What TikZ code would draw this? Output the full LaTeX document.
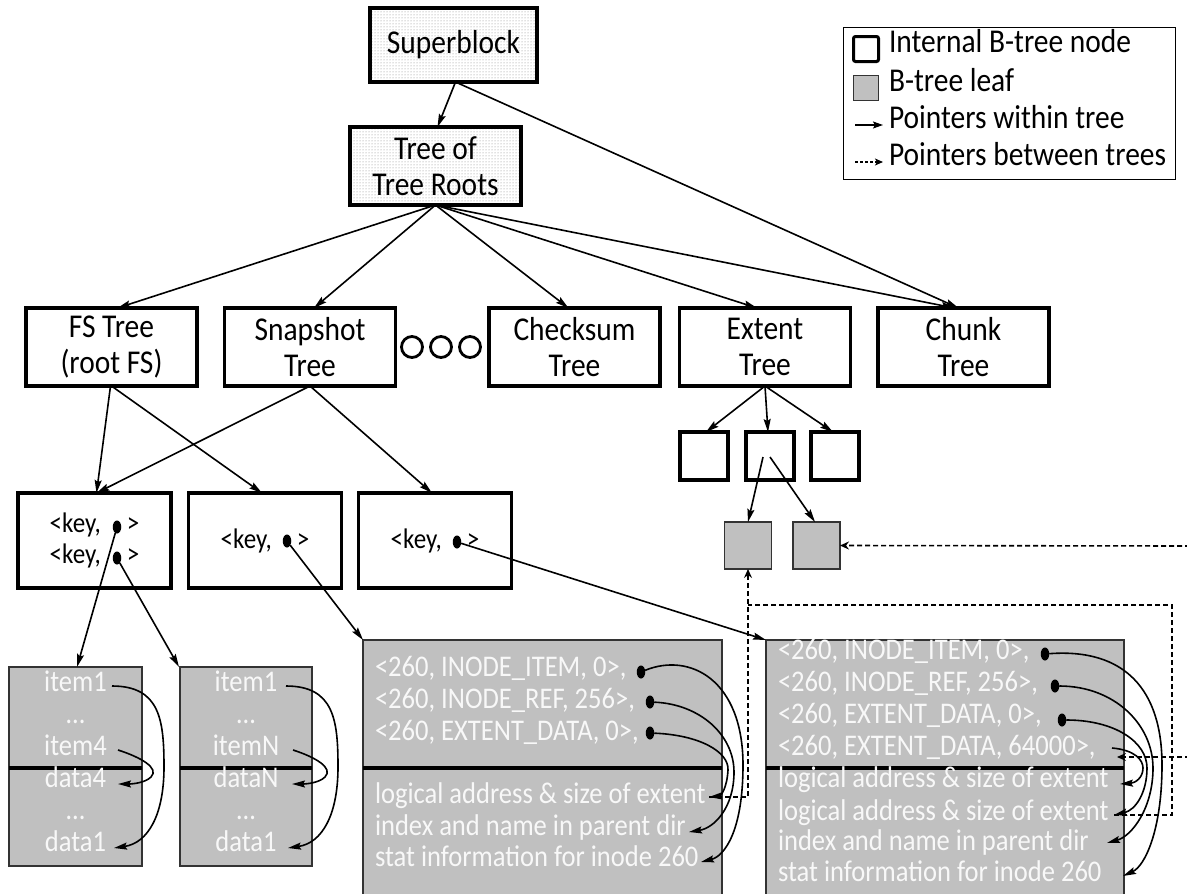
\documentclass[tikz,border=0pt]{standalone}
\usepackage{fontspec}
\setmainfont{Carlito}[FakeStretch=0.885]
\usetikzlibrary{arrows.meta,shapes.geometric,patterns}
\definecolor{leafgray}{RGB}{192,192,192}
\definecolor{leafink}{RGB}{248,248,248}
\begin{document}
\begin{tikzpicture}[x=1pt,y=-1pt,
  every node/.style={inner sep=0pt,outer sep=0pt},
  bigfont/.style={font=\fontsize{33.3}{36}\selectfont},
  treebox/.style={draw,line width=3.5pt,align=center,minimum width=171pt,minimum height=78pt,bigfont},
  rootbox/.style={treebox,pattern=dots,pattern color=black!50},
  keybox/.style={draw,line width=3.5pt,minimum width=153pt,minimum height=95pt,align=center,font=\fontsize{28.3}{31}\selectfont},
  smallbox/.style={draw,line width=3.5pt,minimum size=48pt},
  leafbox/.style={draw=black!80,line width=1.5pt,fill=leafgray},
  leaftxt/.style={text=leafink,font=\fontsize{30}{32}\selectfont,text height=0.75em,text depth=0.1em},
  legtxt/.style={bigfont,anchor=west,text height=0.75em,text depth=0.1em},
  kdot/.style={ellipse,fill=black,minimum width=8.5pt,minimum height=13pt},
  ptr/.style={line width=1.6pt,-{Stealth[length=13pt,width=7pt,inset=2pt]}},
  xptr/.style={line width=1.6pt,dash pattern=on 5pt off 3pt,-{Stealth[length=9pt,width=8pt,inset=3pt]}},
  xline/.style={line width=1.6pt,dash pattern=on 5pt off 3pt},
  ring/.style={circle,draw,line width=2.8pt,minimum size=21pt},
]
\useasboundingbox (0,0) rectangle (1187,894);

% ---------- upper levels ----------
\node[rootbox,minimum width=167pt,minimum height=74pt] (super) at (453.5,45) {Superblock};
\node[rootbox] (roots) at (435.5,166) {Tree of\\Tree Roots};

\node[treebox] (fs)    at (111.5,347) {FS Tree\\(root FS)};
\node[treebox] (snap)  at (310,347)   {Snapshot\\Tree};
\node[ring] (o1) at (412,347) {};
\node[ring] (o2) at (441,347) {};
\node[ring] (o3) at (470,347) {};
\node[treebox] (cks)   at (574.5,347) {Checksum\\Tree};
\node[treebox] (ext)   at (765,347)   {Extent\\Tree};
\node[treebox] (chunk) at (963.5,347) {Chunk\\Tree};

\draw[ptr] ([xshift=2]super.south) -- ([xshift=2]roots.north);
\draw[ptr] ([xshift=2]super.south) -- ([xshift=-5]chunk.north);
\draw[ptr] (roots.south) -- ([xshift=6]fs.north);
\draw[ptr] (roots.south) -- ([xshift=4]snap.north);
\draw[ptr] (roots.south) -- ([xshift=-6]cks.north);
\draw[ptr] (roots.south) -- ([xshift=-8]ext.north);
\draw[ptr] (roots.south) -- ([xshift=-9]chunk.north);

% ---------- FS / snapshot interior nodes ----------
\node[keybox] (k1) at (94.5,540.5) {<key,\hspace{26pt}>\\<key,\hspace{26pt}>};
\node[keybox] (k2) at (265,540.5)  {<key,\hspace{25pt}>};
\node[keybox] (k3) at (435,540.5)  {<key,\hspace{25pt}>};
\node[kdot] (k1a) at (117,527) {};
\node[kdot] (k1b) at (117,558) {};
\node[kdot] (k2d) at (287,541) {};
\node[kdot] (k3d) at (457,542) {};

\draw[ptr] ([xshift=-1]fs.south) -- ([xshift=2]k1.north);
\draw[ptr] (fs.south) -- ([xshift=-3]k2.north);
\draw[ptr] (snap.south) -- ([xshift=2]k1.north);
\draw[ptr] (snap.south) -- ([xshift=-3]k3.north);

% ---------- extent tree ----------
\node[smallbox] (ec1) at (704,456) {};
\node[smallbox] (ec2) at (770,456) {};
\node[smallbox] (ec3) at (835,456) {};
\node[leafbox,minimum size=47pt] (el1) at (748,545.5) {};
\node[leafbox,minimum size=47pt] (el2) at (816.5,545.5) {};

\draw[ptr] (ext.south) -- ([xshift=2]ec1.north);
\draw[ptr] (ext.south) -- ([xshift=-2]ec2.north);
\draw[ptr] (ext.south) -- ([xshift=-2]ec3.north);
\draw[ptr] ([shift={(-7,1)}]ec2.center) -- (el1.north);
\draw[ptr] ([shift={(0,1)}]ec2.center) -- ([xshift=-1.5]el2.north);

% ---------- small leaves ----------
\node[leafbox,minimum width=133pt,minimum height=199pt] (l1) at (75.5,766.5) {};
\node[leafbox,minimum width=132pt,minimum height=199pt] (l2) at (246,766.5) {};
\draw[line width=4.5pt] (9,768) -- (142,768);
\draw[line width=4.5pt] (180,768) -- (312,768);

\node[leaftxt] (l1i1) at (75.5,688) {item1};
\node[leaftxt] (l1e1) at (75.5,720) {…};
\node[leaftxt] (l1i4) at (75.5,752) {item4};
\node[leaftxt] (l1d4) at (75.5,784) {data4};
\node[leaftxt] (l1e2) at (75.5,816) {…};
\node[leaftxt] (l1d1) at (75.5,848) {data1};

\node[leaftxt] (l2i1) at (246,688) {item1};
\node[leaftxt] (l2e1) at (246,720) {…};
\node[leaftxt] (l2iN) at (246,752) {itemN};
\node[leaftxt] (l2dN) at (246,784) {dataN};
\node[leaftxt] (l2e2) at (246,816) {…};
\node[leaftxt] (l2d1) at (246,848) {data1};

\draw[ptr] (k1a) -- ([xshift=1.5]l1.north);
\draw[ptr] (k1b) -- ([xshift=-1]l2.north west);

\draw[ptr] (112,686) .. controls (160,686) and (164,720) .. (164,767)
                     .. controls (164,815) and (148,843) .. (114,848);
\draw[ptr] (118,750) .. controls (140,757) and (160,768) .. (151,777)
                     .. controls (145,783) and (132,784) .. (118,784);
\draw[ptr] (286,686) .. controls (334,686) and (338,720) .. (338,767)
                     .. controls (338,815) and (322,843) .. (288,848);
\draw[ptr] (293,750) .. controls (315,757) and (334,768) .. (325,777)
                     .. controls (319,783) and (306,784) .. (292,784);

% ---------- FS tree leaf ----------
\node[leafbox,minimum width=359pt,minimum height=262pt] (la) at (542.5,771) {};
\draw[line width=4.5pt] (363,768) -- (722,768);
\node[leaftxt,anchor=west] (a1) at (375,673) {<260, INODE\_ITEM, 0>,};
\node[leaftxt,anchor=west] (a2) at (375,705) {<260, INODE\_REF, 256>,};
\node[leaftxt,anchor=west] (a3) at (375,737) {<260, EXTENT\_DATA, 0>,};
\node[leaftxt,anchor=west] (a4) at (375,800) {logical address \& size of extent};
\node[leaftxt,anchor=west] (a5) at (375,832) {index and name in parent dir};
\node[leaftxt,anchor=west] (a6) at (375,863) {stat information for inode 260};
\node[kdot] (ad1) at (641,672) {};
\node[kdot] (ad2) at (650,702) {};
\node[kdot] (ad3) at (650,733) {};

\draw[ptr] (k2d) -- (la.north west);

\draw[ptr] (ad1) .. controls (690,652) and (743,680) .. (743,765)
                 .. controls (743,830) and (725,856) .. (701,862);
\draw[ptr] (ad2) .. controls (700,704) and (734,735) .. (734,772)
                 .. controls (734,808) and (714,828) .. (689,832);
\draw[ptr] (ad3) .. controls (700,735) and (729,752) .. (728,770)
                 .. controls (727,788) and (721,796) .. (709,797);

% ---------- snapshot leaf ----------
\node[leafbox,minimum width=358pt,minimum height=262pt] (lb) at (945,771) {};
\draw[line width=4.5pt] (766,768) -- (1124,768);
\node[leaftxt,anchor=west] (b1) at (778,656) {<260, INODE\_ITEM, 0>,};
\node[leaftxt,anchor=west] (b2) at (778,688) {<260, INODE\_REF, 256>,};
\node[leaftxt,anchor=west] (b3) at (778,720) {<260, EXTENT\_DATA, 0>,};
\node[leaftxt,anchor=west] (b4) at (778,752) {<260, EXTENT\_DATA, 64000>,};
\node[leaftxt,anchor=west] (b5) at (778,784) {logical address \& size of extent};
\node[leaftxt,anchor=west] (b6) at (778,817) {logical address \& size of extent};
\node[leaftxt,anchor=west] (b7) at (778,847) {index and name in parent dir};
\node[leaftxt,anchor=west] (b8) at (778,878) {stat information for inode 260};
\node[kdot] (bd1) at (1045,654) {};
\node[kdot] (bd2) at (1055,686) {};
\node[kdot] (bd3) at (1062,720) {};

\draw[ptr] (k3d) -- (lb.north west);

\draw[ptr] (bd1) .. controls (1125,648) and (1162,690) .. (1162,765)
                 .. controls (1162,830) and (1145,866) .. (1123,876);
\draw[ptr] (bd2) .. controls (1115,686) and (1153,725) .. (1153,768)
                 .. controls (1153,808) and (1132,836) .. (1107,843);
\draw[ptr] (bd3) .. controls (1115,720) and (1147,742) .. (1147,768)
                 .. controls (1147,792) and (1136,810) .. (1114,815);
\draw[ptr] (1112,748) .. controls (1135,750) and (1143,760) .. (1143,768)
                      .. controls (1143,778) and (1135,783) .. (1120,784);

% ---------- pointers between trees ----------
\coordinate (aext) at (709,797);
\coordinate (bext) at (1114,815);
\coordinate (brow) at (1117,757);
\coordinate (edge1) at (1190,546);
\coordinate (edge2) at (1190,757);
\draw[xptr] (aext) -- (748,797) -- (el1.south);
\draw[xline] (bext) -- (1172,815) -- (1172,605) -- (748,605);
\draw[xptr] (edge1) -- (el2.east);
\draw[xptr] (edge2) -- (brow);

% ---------- legend ----------
\node[draw,line width=1pt,minimum width=332pt,minimum height=152pt] (legend) at (1009,103) {};
\node[draw,line width=3pt,rounded corners=2pt,minimum size=25pt] (lg1) at (866,49) {};
\node[legtxt] (lt1) at (889,49) {Internal B-tree node};
\node[draw=black!80,line width=1.3pt,fill=leafgray,minimum size=25pt] (lg2) at (866,88) {};
\node[legtxt] (lt2) at (889,88) {B-tree leaf};
\coordinate (lp1) at (855,125);
\coordinate (lp2) at (883,125);
\draw[line width=1.6pt,-{Stealth[length=10pt,width=7pt,inset=2pt]}] (lp1) -- (lp2);
\node[legtxt] (lt3) at (889,125) {Pointers within tree};
\coordinate (lq1) at (855,162);
\coordinate (lq2) at (883,162);
\draw[line width=1.3pt,dash pattern=on 3pt off 2pt,-{Stealth[length=8pt,width=7pt,inset=2pt]}] (lq1) -- (lq2);
\node[legtxt] (lt4) at (889,162) {Pointers between trees};
\end{tikzpicture}
\end{document}
